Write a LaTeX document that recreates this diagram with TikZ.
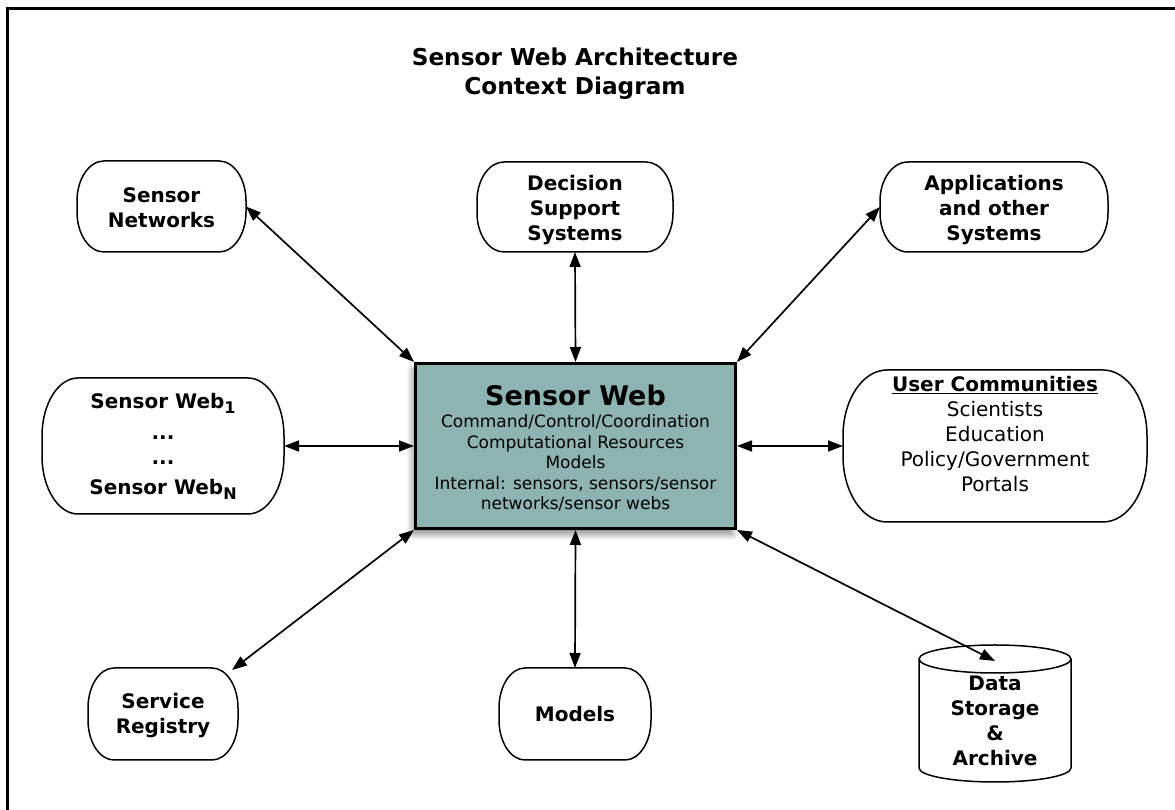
\documentclass[tikz,border=0pt]{standalone}
\usepackage{fontspec}
\setmainfont{DejaVu Sans}
\usetikzlibrary{arrows.meta,shadows.blur}

% outline of a box with elliptical corners, drawn around a named node
\newcommand\capsuleoutline[3]{%
  \draw[box line] ([xshift=#2]#1.north west) -- ([xshift=-#2]#1.north east)
    arc[start angle=90,end angle=0,x radius=#2,y radius=#3]
    -- ([yshift=#3]#1.south east)
    arc[start angle=0,end angle=-90,x radius=#2,y radius=#3]
    -- ([xshift=#2]#1.south west)
    arc[start angle=270,end angle=180,x radius=#2,y radius=#3]
    -- ([yshift=-#3]#1.north west)
    arc[start angle=180,end angle=90,x radius=#2,y radius=#3]
    -- cycle;}

\definecolor{webfill}{HTML}{8DB3B3}

\begin{document}
\begin{tikzpicture}[x=1pt,y=1pt,
  box line/.style={line width=1.5pt},
  capsule/.style={draw=none,inner sep=0pt,outer sep=0pt},
  boxtext/.style={align=center,inner sep=0pt,
    font=\fontsize{20}{25}\selectfont\bfseries},
  core/.style={draw=black,line width=3pt,fill=webfill,inner sep=0pt,
    blur shadow={shadow xshift=-3pt,shadow yshift=-6pt,shadow blur radius=6pt,
      shadow blur steps=12,shadow opacity=45}},
  link/.style={line width=1.7pt,
    {Triangle[length=15pt,width=11pt]}-{Triangle[length=15pt,width=11pt]}}]

\useasboundingbox (0,0) rectangle (1175,810);

% page frame
\draw[line width=3pt] (7,0) -- (7,801) -- (1175,801);

% title
\node[align=center,font=\fontsize{23.2}{29}\selectfont\bfseries] (title) at (575,736.5)
  {Sensor Web Architecture\\Context Diagram};

% central node
\node[core,minimum width=320,minimum height=165] (cw) at (575.5,364) {};
\node[align=center,inner sep=0pt,font=\fontsize{17}{20.5}\selectfont] (cwtext) at (575.5,362)
  {{\fontsize{27}{27}\selectfont\bfseries Sensor Web}\\[2pt]
   Command/Control/Coordination\\
   Computational Resources\\
   Models\\
   Internal: sensors, sensors/sensor\\
   networks/sensor webs};

% surrounding systems
\node[capsule,minimum width=169,minimum height=91] (sn) at (161.5,603.5) {};
\capsuleoutline{sn}{27}{40}
\node[boxtext] (snlabel) at (161.5,602.5) {Sensor\\Networks};

\node[capsule,minimum width=196,minimum height=90] (dss) at (575,603) {};
\capsuleoutline{dss}{27}{39}
\node[boxtext] (dsslabel) at (575,600) {Decision\\Support\\Systems};

\node[capsule,minimum width=228,minimum height=90] (app) at (994,603) {};
\capsuleoutline{app}{28}{39}
\node[boxtext] (applabel) at (994,600) {Applications\\and other\\Systems};

\node[capsule,minimum width=242,minimum height=136] (sw) at (163,364) {};
\capsuleoutline{sw}{36}{58}
\node[boxtext] (swlabel) at (163,364)
  {Sensor Web\raisebox{-5pt}{\fontsize{16}{16}\selectfont 1}\\[6pt]
   ...\\ ...\\[5pt]
   Sensor Web\raisebox{-5pt}{\fontsize{16}{16}\selectfont N}};

\node[capsule,minimum width=304,minimum height=152] (uc) at (995,364) {};
\capsuleoutline{uc}{44}{66}
\node[align=center,inner sep=0pt,font=\fontsize{20}{25.2}\selectfont] (uclabel) at (995,376)
  {\textbf{\underline{User Communities}}\\Scientists\\Education\\Policy/Government\\Portals};

\node[capsule,minimum width=150,minimum height=92] (sr) at (163,96) {};
\capsuleoutline{sr}{26}{40}
\node[boxtext] (srlabel) at (163,94) {Service\\Registry};

\node[capsule,minimum width=152,minimum height=92] (mod) at (575,96) {};
\capsuleoutline{mod}{26}{40}
\node[boxtext] (modlabel) at (575,96) {Models};

% archive cylinder
\draw[box line,fill=white] (919,151) -- (919,42)
  arc[start angle=180,end angle=360,x radius=76,y radius=14] -- (1071,151);
\draw[box line] (995,151) ellipse[x radius=76,y radius=14];
\node[boxtext] (ds) at (995,89) {Data\\Storage\\\&\\Archive};
\coordinate (dstop) at (995,149);
\coordinate (srend) at ([xshift=-6,yshift=-2]sr.north east);

% connectors
\draw[link] (sn.east) -- (cw.north west);
\draw[link] (dss.south) -- (cw.north);
\draw[link] (app.west) -- (cw.north east);
\draw[link] (sw.east) -- (cw.west);
\draw[link] (uc.west) -- (cw.east);
\draw[link] (srend) -- (cw.south west);
\draw[link] (mod.north) -- (cw.south);
\draw[link] (dstop) -- (cw.south east);
\end{tikzpicture}
\end{document}
